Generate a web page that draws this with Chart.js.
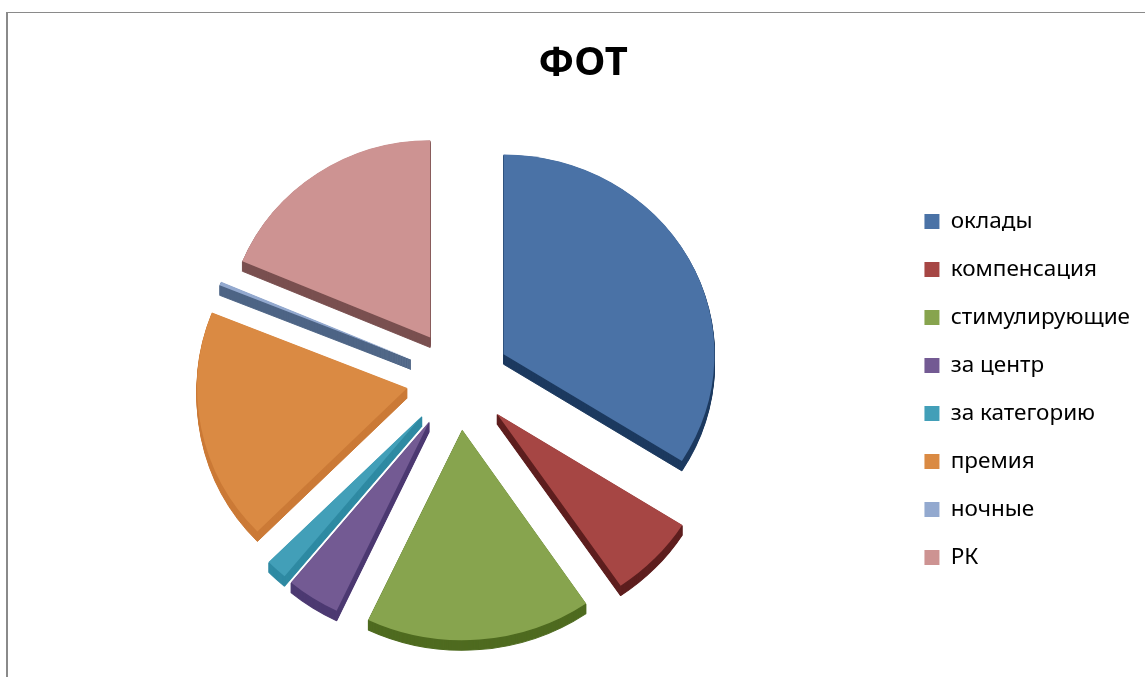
<!DOCTYPE html>
<html>
<head>
<meta charset="utf-8">
<script src="https://cdn.jsdelivr.net/npm/chart.js@4"></script>
<style>
  html, body { margin: 0; background: #fff; overflow: hidden; }
  #frame { position: absolute; left: 6px; top: 12px; width: 1139px; height: 665px; border-left: 2px solid #8a8a8a; border-top: 1px solid #8a8a8a; }
  #box { position: absolute; left: 0; top: 0; width: 1145px; height: 677px; }
</style>
</head>
<body>
<div id="box"><canvas id="fot"></canvas></div>
<div id="frame"></div>
<script>
const categories = ["оклады", "компенсация", "стимулирующие", "за центр", "за категорию", "премия", "ночные", "РК"];
const values = [34, 6.5, 16.6, 4, 1.6, 18.4, 0.3, 18.7];
const colors = ["#4a72a6", "#a64644", "#87a44e", "#735a93", "#429fb8", "#da8a43", "#93a9cf", "#cd9392"];
const sideColors = ["#1c3a5f", "#5e1f1f", "#4f6b20", "#4d3a72", "#2f8aa3", "#cb7a36", "#4d6485", "#7a5050"];

const tilt = 0.96;
const depth = 10;
const gap = 53;
const pieX = 458;
const pieY = 378;

function drawSlice(ctx, arc, cx, cy, options, down) {
  // slices nearer the viewer come out a little bigger
  let mid = (arc.startAngle + arc.endAngle) / 2;
  let near = 0.985 + 0.035 * Math.sin(mid);
  let saved = arc.options;
  ctx.save();
  ctx.translate(pieX, pieY + down);
  ctx.scale(near + 0.015 * Math.cos(mid), near * tilt);
  ctx.translate(-cx, -cy);
  arc.options = Object.assign({}, saved, options);
  arc.draw(ctx);
  arc.options = saved;
  ctx.restore();
}

const tiltPlugin = {
  id: "tilt",
  afterLayout(chart) {
    // rows sit lower and further right than the layout box puts them
    chart.legend.top += 41;
    chart.legend.bottom += 41;
    chart.legend.left -= 5;
    chart.legend.right -= 5;
  },
  beforeDatasetsDraw(chart) {
    let ctx = chart.ctx;
    let arcs = chart.getDatasetMeta(0).data;
    let cx = arcs[0].x;
    let cy = arcs[0].y;
    // arc.draw narrows and grows small slices when offset is set,
    // a quarter turn here makes it only slide them out
    arcs.forEach((arc) => {
      arc.circumference = Math.PI / 2;
    });
    // side walls first, same arcs pushed down in a darker colour
    for (let d = depth; d > 0; d--) {
      arcs.forEach((arc, i) => {
        drawSlice(ctx, arc, cx, cy, { backgroundColor: sideColors[i], borderColor: sideColors[i], borderWidth: 1 }, d);
      });
    }
    arcs.forEach((arc) => {
      drawSlice(ctx, arc, cx, cy, {}, 0);
    });
    return false;
  },
};

new Chart("fot", {
  type: "pie",
  data: {
    labels: categories,
    datasets: [
      {
        data: values,
        backgroundColor: colors,
        borderWidth: 0,
        offset: gap * 4,
        radius: 215,
      },
    ],
  },
  options: {
    responsive: true,
    maintainAspectRatio: false,
    animation: false,
    layout: { padding: { top: 20, left: 21 } },
    plugins: {
      title: {
        display: true,
        text: "ФОТ",
        color: "#000",
        font: { family: "Noto Sans", size: 40, weight: "bold" },
        padding: { top: 20, bottom: 10 },
      },
      legend: {
        position: "right",
        labels: {
          color: "#000",
          boxWidth: 15,
          boxHeight: 15,
          padding: 25.5,
          font: { family: "Noto Sans", size: 22.5 },
        },
      },
      tooltip: { enabled: false },
    },
  },
  plugins: [tiltPlugin],
});
</script>
</body>
</html>
